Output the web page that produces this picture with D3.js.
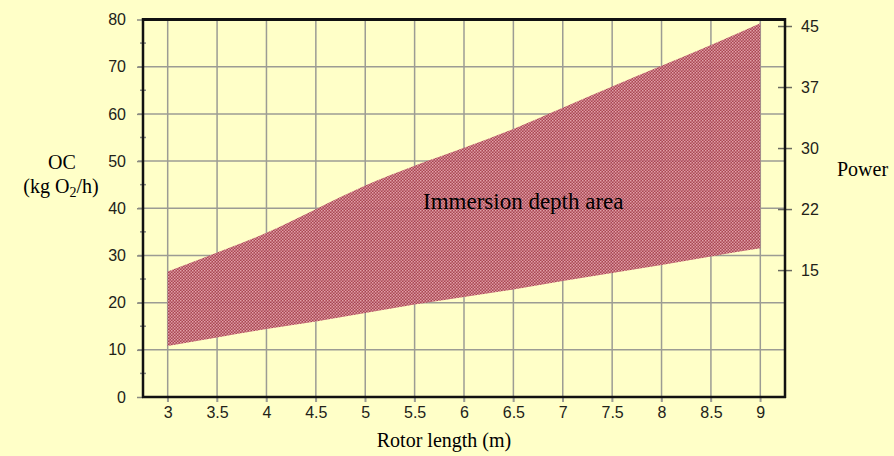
<!DOCTYPE html>
<html>
<head>
<meta charset="utf-8">
<script src="https://cdn.jsdelivr.net/npm/d3@7"></script>
<style>
  html, body { margin: 0; padding: 0; background: #ffffc8; }
  svg { display: block; }
</style>
</head>
<body>
<svg id="chart" width="894" height="456"></svg>
<script>
// ---- data ----
const rotorLength = [3, 3.5, 4, 4.5, 5, 5.5, 6, 6.5, 7, 7.5, 8, 8.5, 9];
const ocUpper = [26.6, 30.6, 34.8, 39.8, 44.8, 49.0, 52.8, 56.8, 61.3, 65.8, 70.2, 74.6, 79.2];
const ocLower = [10.8, 12.6, 14.4, 16.0, 17.8, 19.6, 21.2, 22.8, 24.6, 26.3, 28.0, 29.8, 31.5];
const xTicks = [3, 3.5, 4, 4.5, 5, 5.5, 6, 6.5, 7, 7.5, 8, 8.5, 9];
const yTicks = [0, 10, 20, 30, 40, 50, 60, 70, 80];
const yMinorTicks = [5, 15, 25, 35, 45, 55, 65, 75];
const powerTicks = [15, 22.5, 30, 37.5, 45];
const powerTickLabels = ["15", "22", "30", "37", "45"];
const areaLabel = "Immersion depth area";

// ---- layout ----
const svg = d3.select("#chart");
const L = 143, R = 785, T = 19.5, B = 397;
const x = d3.scaleLinear().domain([2.75, 9.25]).range([L, R]);
const y = d3.scaleLinear().domain([0, 80]).range([B, T]);
const yPow = d3.scaleLinear().domain([-0.6, 45.8]).range([B, T]);

svg.append("rect").attr("width", 894).attr("height", 456).attr("fill", "#ffffc8");

// pattern for band
const defs = svg.append("defs");
const pat = defs.append("pattern").attr("id", "dots")
  .attr("patternUnits", "userSpaceOnUse").attr("width", 3).attr("height", 3);
pat.append("rect").attr("width", 3).attr("height", 3).attr("fill", "#a63c4c");
pat.append("rect").attr("x", 0).attr("y", 0).attr("width", 1.5).attr("height", 1.5).attr("fill", "#e09ca7");
pat.append("rect").attr("x", 1.5).attr("y", 1.5).attr("width", 1.5).attr("height", 1.5).attr("fill", "#d48c98");

// grid
const grid = svg.append("g").attr("stroke", "#9c9c94").attr("stroke-width", 1.5);
grid.selectAll("line.v").data(xTicks).join("line")
  .attr("x1", d => x(d)).attr("x2", d => x(d)).attr("y1", T).attr("y2", B + 5);
grid.selectAll("line.h").data(yTicks.filter(d => d > 0 && d < 80)).join("line")
  .attr("x1", L - 5).attr("x2", R).attr("y1", d => y(d)).attr("y2", d => y(d));

// band
const bandData = rotorLength.map((r, i) => ({ r, u: ocUpper[i], l: ocLower[i] }));
const area = d3.area().x(d => x(d.r)).y0(d => y(d.l)).y1(d => y(d.u)).curve(d3.curveMonotoneX);
svg.append("path").datum(bandData).attr("d", area).attr("fill", "url(#dots)").attr("opacity", 0.95);

// left axis
const gL = svg.append("g").attr("transform", `translate(${L},0)`)
  .call(d3.axisLeft(y).tickValues(yTicks).tickSize(6).tickPadding(11).tickFormat(d3.format("d")));
gL.select(".domain").remove();
gL.selectAll(".tick line").attr("stroke", "#8a8a80").attr("stroke-width", 1.5);
gL.selectAll(".tick text").attr("font-family", "Liberation Sans, Arial, sans-serif")
  .attr("font-size", 16).attr("fill", "#222218").attr("x", -17);
svg.append("g").selectAll("line").data(yMinorTicks).join("line")
  .attr("x1", L - 3).attr("x2", L + 3).attr("y1", d => y(d)).attr("y2", d => y(d))
  .attr("stroke", "#8a8a80").attr("stroke-width", 1.5);

// bottom axis
const gB = svg.append("g").attr("transform", `translate(0,${B})`)
  .call(d3.axisBottom(x).tickValues(xTicks).tickSize(5).tickPadding(5).tickFormat(d => String(d)));
gB.select(".domain").remove();
gB.selectAll(".tick line").attr("stroke", "#9c9c94").attr("stroke-width", 1.5);
gB.selectAll(".tick text").attr("font-family", "Liberation Sans, Arial, sans-serif")
  .attr("font-size", 16).attr("fill", "#222218");

// right axis
const gR = svg.append("g").attr("transform", `translate(${R},0)`)
  .call(d3.axisRight(yPow).tickValues(powerTicks).tickSize(7).tickPadding(9)
    .tickFormat((d, i) => powerTickLabels[i]));
gR.select(".domain").remove();
gR.selectAll(".tick line").attr("x1", -7).attr("stroke", "#6a6a60").attr("stroke-width", 1.5);
gR.selectAll(".tick text").attr("font-family", "Liberation Sans, Arial, sans-serif")
  .attr("font-size", 16).attr("fill", "#222218");

// frame
const frame = svg.append("g").attr("stroke", "#111").attr("fill", "none");
frame.append("line").attr("x1", L).attr("x2", L).attr("y1", T - 1.5).attr("y2", B + 1).attr("stroke-width", 2.5);
frame.append("line").attr("x1", L - 1).attr("x2", R + 1).attr("y1", B).attr("y2", B).attr("stroke-width", 2.5);
frame.append("line").attr("x1", L - 1).attr("x2", R + 1).attr("y1", T).attr("y2", T).attr("stroke-width", 3);
frame.append("line").attr("x1", R).attr("x2", R).attr("y1", T - 1.5).attr("y2", B + 1).attr("stroke-width", 2.5);

// titles
const serif = "Liberation Serif, Times New Roman, serif";
svg.append("text").attr("x", 62).attr("y", 169).attr("text-anchor", "middle")
  .attr("font-family", serif).attr("font-size", 20).attr("fill", "#000").text("OC");
const t2 = svg.append("text").attr("x", 61).attr("y", 193).attr("text-anchor", "middle")
  .attr("font-family", serif).attr("font-size", 20).attr("fill", "#000");
t2.append("tspan").text("(kg O");
t2.append("tspan").attr("font-size", 14).attr("dy", 4).text("2");
t2.append("tspan").attr("dy", -4).text("/h)");
svg.append("text").attr("x", 837).attr("y", 176)
  .attr("font-family", serif).attr("font-size", 20).attr("fill", "#000").text("Power");
svg.append("text").attr("x", 444).attr("y", 447).attr("text-anchor", "middle")
  .attr("font-family", serif).attr("font-size", 20).attr("fill", "#000").text("Rotor length (m)");
svg.append("text").attr("x", 423).attr("y", 209)
  .attr("font-family", serif).attr("font-size", 23).attr("fill", "#000").text(areaLabel);
</script>
</body>
</html>
